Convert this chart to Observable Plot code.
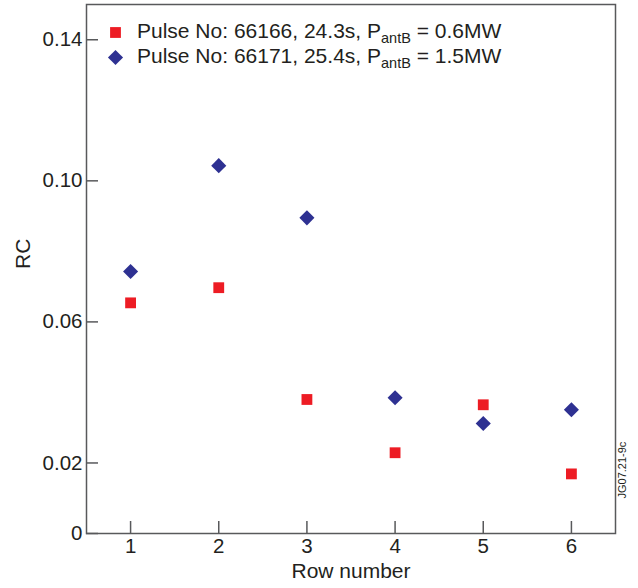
<!DOCTYPE html>
<html><head><meta charset="utf-8">
<script src="https://cdn.jsdelivr.net/npm/d3@7"></script>
<script src="https://cdn.jsdelivr.net/npm/@observablehq/plot@0.6"></script>
<style>
body{margin:0;background:#fff;}
#chart{width:638px;height:588px;}
</style></head><body><div id="chart"></div>
<script>
const rows = [1, 2, 3, 4, 5, 6];
const rc66166 = [0.0654, 0.0697, 0.0380, 0.0229, 0.0365, 0.0169];
const rc66171 = [0.0743, 0.1043, 0.0895, 0.0385, 0.0312, 0.0351];
const legendMain = ["Pulse No: 66166, 24.3s, P", "Pulse No: 66171, 25.4s, P"];
const legendSub = ["antB", "antB"];
const legendTail = [" = 0.6MW", " = 1.5MW"];
const yTicks = [0, 0.02, 0.06, 0.10, 0.14];
const xTicks = [1, 2, 3, 4, 5, 6];
const colors = ["#ed1c24", "#2e3192"];
const ink = "#231f20";
const frameGray = "#58595b";
const font = "'Liberation Sans', Arial, Helvetica, sans-serif";

const plot = Plot.plot({
  width: 638, height: 588,
  marginLeft: 86, marginRight: 23, marginTop: 4, marginBottom: 55,
  style: {fontFamily: font, fontSize: "20.5px", color: ink, background: "white"},
  x: {domain: [0.5, 6.5]},
  y: {domain: [0, 0.15]},
  marks: [
    Plot.frame({stroke: frameGray, strokeWidth: 1.5}),
    Plot.axisY(yTicks, {tickSize: -12, tickFormat: () => "", stroke: frameGray, strokeWidth: 1.5, label: null}),
    Plot.axisY(yTicks, {tickSize: 0, tickPadding: 4, tickFormat: d => d === 0 ? "0" : d.toFixed(2), label: null, fill: ink, fontSize: 20.5}),
    Plot.axisX(xTicks, {tickSize: -12, tickFormat: () => "", stroke: frameGray, strokeWidth: 1.5, label: null}),
    Plot.axisX(xTicks, {tickSize: 0, tickPadding: 5, tickFormat: d => String(d), label: null, fill: ink, fontSize: 20.5}),
    Plot.text(["RC"], {frameAnchor: "left", dx: -63, rotate: -90, fontSize: 21, fill: ink}),
    Plot.text(["Row number"], {frameAnchor: "bottom", dy: 44.5, lineAnchor: "bottom", fontSize: 21, fill: ink}),
    Plot.text(["JG07.21-9c"], {frameAnchor: "bottom-right", dx: 10, dy: -35, rotate: -90, textAnchor: "start", fontSize: 11, fill: ink}),
    Plot.dot(rows, {x: d => d, y: (d, i) => rc66166[i], symbol: "square", r: 6.1, fill: colors[0], stroke: "none"}),
    Plot.dot(rows, {x: d => d, y: (d, i) => rc66171[i], symbol: "diamond2", r: 6.8, fill: colors[1], stroke: "none"})
  ]
});

// legend drawn into the plot's svg (needs subscripts)
const svg = d3.select(plot);
const lg = svg.append("g").attr("font-family", font).attr("fill", ink).attr("text-anchor", "start");
const syms = [d3.symbolSquare, d3.symbolDiamond2];
const sizes = [Math.PI * 6.1 * 6.1, Math.PI * 6.8 * 6.8];
legendMain.forEach((t, i) => {
  const cy = 32.5 + 25 * i;
  lg.append("path").attr("transform", `translate(115.5,${cy})`)
    .attr("d", d3.symbol(syms[i], sizes[i])()).attr("fill", colors[i]);
  const tx = lg.append("text").attr("x", 137).attr("y", cy + 5.5).attr("font-size", 21);
  tx.append("tspan").text(t);
  tx.append("tspan").attr("font-size", 14.5).attr("dy", 4.5).text(legendSub[i]);
  tx.append("tspan").attr("dy", -4.5).text(legendTail[i]);
});

document.getElementById("chart").appendChild(plot);
</script>
</body></html>
